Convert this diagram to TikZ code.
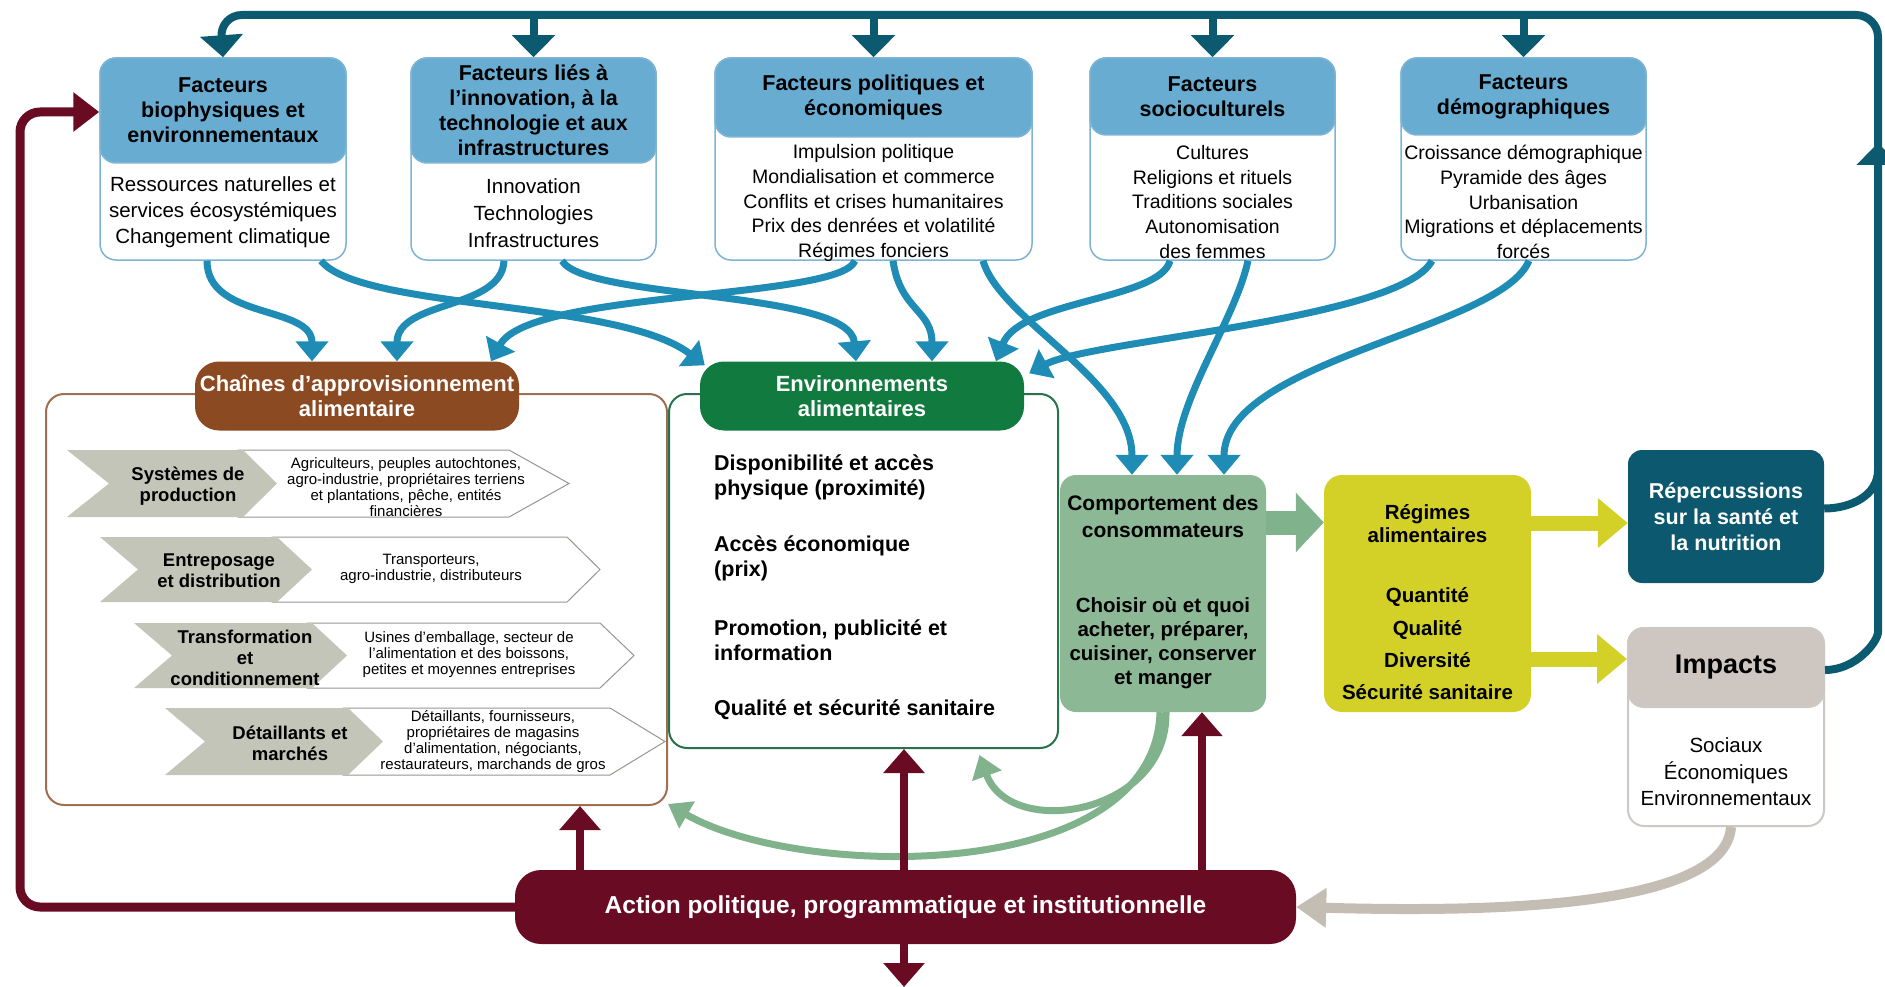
\documentclass[tikz,border=0pt]{standalone}
\usepackage{fontspec}
\setmainfont{Liberation Sans}
\usetikzlibrary{arrows.meta}
\definecolor{toplinec}{RGB}{12,90,112}
\definecolor{hdrblue}{RGB}{104,172,210}
\definecolor{bdrblue}{RGB}{125,180,212}
\definecolor{curveblue}{RGB}{30,140,180}
\definecolor{chbrown}{RGB}{140,74,34}
\definecolor{chborder}{RGB}{160,110,80}
\definecolor{envgreen}{RGB}{17,122,62}
\definecolor{envborder}{RGB}{40,115,75}
\definecolor{compgreen}{RGB}{140,184,150}
\definecolor{loopgreen}{RGB}{128,178,140}
\definecolor{regyellow}{RGB}{211,209,40}
\definecolor{repteal}{RGB}{12,88,110}
\definecolor{impgray}{RGB}{206,199,193}
\definecolor{impborder}{RGB}{205,200,195}
\definecolor{curvegray}{RGB}{196,189,180}
\definecolor{maroonc}{RGB}{105,12,35}
\definecolor{chevgray}{RGB}{196,197,185}
\definecolor{chevline}{RGB}{150,150,145}
\begin{document}
\begin{tikzpicture}[x=1pt,y=-1pt,
 topbox/.style={draw=bdrblue,line width=1.5pt,fill=white,rounded corners=16pt,minimum height=202pt,inner sep=0pt},
 tophdr/.style={draw=bdrblue,line width=1.5pt,fill=hdrblue,rounded corners=16pt,anchor=north,inner sep=0pt,align=center,font=\fontsize{21.5}{25}\selectfont\bfseries},
 topbody/.style={align=center,inner sep=0pt,font=\fontsize{19.5}{24.8}\selectfont},
 pill/.style={rounded corners=24pt,minimum width=324pt,minimum height=69pt,inner sep=0pt,align=center,text=white,font=\fontsize{22}{25}\selectfont\bfseries},
 boldtxt/.style={align=center,inner sep=0pt,font=\fontsize{20.5}{24}\selectfont\bfseries},
 envtxt/.style={align=left,anchor=west,inner sep=0pt,font=\fontsize{21.5}{25}\selectfont\bfseries},
 chevtext/.style={align=center,inner sep=0pt,font=\fontsize{18.5}{21}\selectfont\bfseries},
 chevsub/.style={align=center,inner sep=0pt,font=\fontsize{15}{16}\selectfont},
 toparr/.style={draw=toplinec,line width=8pt,-{Triangle[width=42pt,length=22pt]}},
 bluec/.style={draw=curveblue,line width=7pt,-{Triangle[width=32pt,length=20pt]}},
 greenc/.style={draw=loopgreen,line width=7pt,-{Triangle[width=30pt,length=22pt]}},
 maroonarr/.style={draw=maroonc,line width=8pt,-{Triangle[width=40pt,length=24pt]}},
]
\useasboundingbox (0,0) rectangle (1885,987);

% ---------- top boxes ----------
\node[topbox,minimum width=246pt] (b1) at (223,159) {};
\node[tophdr,minimum width=246pt,minimum height=105pt] (b1h) at (b1.north) {Facteurs\\biophysiques et\\environnementaux};
\node[topbody,font=\fontsize{20.5}{26}\selectfont] (b1t) at (223,212) {Ressources naturelles et\\services écosystémiques\\Changement climatique};

\node[topbox,minimum width=245pt] (b2) at (533.5,159) {};
\node[tophdr,minimum width=245pt,minimum height=105pt] (b2h) at (b2.north) {Facteurs liés à\\l’innovation, à la\\technologie et aux\\infrastructures};
\node[topbody,font=\fontsize{20.5}{27}\selectfont] (b2t) at (533.5,213) {Innovation\\Technologies\\Infrastructures};

\node[topbox,minimum width=317pt] (b3) at (873.5,159) {};
\node[tophdr,minimum width=317pt,minimum height=79pt] (b3h) at (b3.north) {Facteurs politiques et\\économiques};
\node[topbody] (b3t) at (873.5,203) {Impulsion politique\\Mondialisation et commerce\\Conflits et crises humanitaires\\Prix des denrées et volatilité\\Régimes fonciers};

\node[topbox,minimum width=245pt] (b4) at (1212.5,159) {};
\node[tophdr,minimum width=245pt,minimum height=77pt] (b4h) at (b4.north) {Facteurs\\socioculturels};
\node[topbody] (b4t) at (1212.5,202) {Cultures\\Religions et rituels\\Traditions sociales\\Autonomisation\\des femmes};

\node[topbox,minimum width=245pt] (b5) at (1523.5,159) {};
\node[tophdr,minimum width=245pt,minimum height=77pt] (b5h) at (b5.north) {Facteurs\\démographiques};
\node[topbody] (b5t) at (1523.5,202) {Croissance démographique\\Pyramide des âges\\Urbanisation\\Migrations et déplacements\\forcés};

% ---------- middle containers ----------
\node[draw=chborder,line width=2pt,rounded corners=18pt,minimum width=621pt,minimum height=411pt,inner sep=0pt] (ch) at (356.5,599.5) {};
\node[draw=envborder,line width=2pt,rounded corners=18pt,minimum width=389pt,minimum height=354pt,inner sep=0pt] (env) at (863.5,571) {};

% chevrons
\draw[fill=white,draw=chevline,line width=1pt] (238,450) -- (509,450) -- (569,483.5) -- (509,517) -- (238,517) -- cycle;
\fill[chevgray] (67,450) -- (243,450) -- (277,483.5) -- (243,517) -- (67,517) -- (109,483.5) -- cycle;
\draw[fill=white,draw=chevline,line width=1pt] (272,537) -- (567,537) -- (600,569.5) -- (567,602) -- (272,602) -- cycle;
\fill[chevgray] (100,537) -- (277,537) -- (312,569.5) -- (277,602) -- (100,602) -- (138,569.5) -- cycle;
\draw[fill=white,draw=chevline,line width=1pt] (307,623) -- (600,623) -- (634,655.5) -- (600,688) -- (307,688) -- cycle;
\fill[chevgray] (134,623) -- (312,623) -- (347,655.5) -- (312,688) -- (134,688) -- (172,655.5) -- cycle;
\draw[fill=white,draw=chevline,line width=1pt] (343,708) -- (610,708) -- (665,741.5) -- (610,775) -- (343,775) -- cycle;
\fill[chevgray] (165,708) -- (348,708) -- (383,741.5) -- (348,775) -- (165,775) -- (205,741.5) -- cycle;

\node[chevtext] (p1) at (188,486) {Systèmes de\\production};
\node[chevtext] (p2) at (219,571) {Entreposage\\et distribution};
\node[chevtext] (p3) at (245,658) {Transformation\\et\\conditionnement};
\node[chevtext] (p4) at (290,743) {Détaillants et\\marchés};
\node[chevsub] (q1) at (406,487) {Agriculteurs, peuples autochtones,\\agro-industrie, propriétaires terriens\\et plantations, pêche, entités\\financières};
\node[chevsub] (q2) at (431,569) {Transporteurs,\\agro-industrie, distributeurs};
\node[chevsub] (q3) at (469,655) {Usines d’emballage, secteur de\\l’alimentation et des boissons,\\petites et moyennes entreprises};
\node[chevsub] (q4) at (493,741.5) {Détaillants, fournisseurs,\\propriétaires de magasins\\d’alimentation, négociants,\\restaurateurs, marchands de gros};

% env text
\node[envtxt] (e1) at (714,477) {Disponibilité et accès\\physique (proximité)};
\node[envtxt] (e2) at (714,558) {Accès économique\\(prix)};
\node[envtxt] (e3) at (714,640) {Promotion, publicité et\\information};
\node[envtxt] (e4) at (714,710) {Qualité et sécurité sanitaire};

% pills
\node[pill,fill=chbrown] (chp) at (357,396) {Chaînes d’approvisionnement\\alimentaire};
\node[pill,fill=envgreen] (envp) at (862,396) {Environnements\\alimentaires};

% consumer behaviour
\node[fill=compgreen,rounded corners=16pt,minimum width=206pt,minimum height=237pt,inner sep=0pt] (comp) at (1163,593.5) {};
\node[boldtxt,font=\fontsize{21}{27}\selectfont\bfseries] (ct1) at (1163,516) {Comportement des\\consommateurs};
\node[boldtxt] (ct2) at (1163,643) {Choisir où et quoi\\acheter, préparer,\\cuisiner, conserver\\et manger};

% diets
\node[fill=regyellow,rounded corners=18pt,minimum width=207pt,minimum height=237pt,inner sep=0pt] (reg) at (1427.5,593.5) {};
\node[boldtxt,font=\fontsize{20.5}{23}\selectfont\bfseries] (rt1) at (1427.5,524) {Régimes\\alimentaires};
\node[boldtxt,font=\fontsize{20.5}{32.3}\selectfont\bfseries] (rt2) at (1427.5,644) {Quantité\\Qualité\\Diversité\\Sécurité sanitaire};

% health
\node[fill=repteal,rounded corners=14pt,minimum width=196pt,minimum height=133pt,inner sep=0pt,align=center,text=white,font=\fontsize{21.5}{26}\selectfont\bfseries] (rep) at (1726,516.5) {Répercussions\\sur la santé et\\la nutrition};

% impacts
\node[draw=impborder,line width=2pt,fill=white,rounded corners=16pt,minimum width=196pt,minimum height=198pt,inner sep=0pt] (imp) at (1726,727) {};
\node[draw=impborder,line width=2pt,fill=impgray,rounded corners=16pt,minimum width=196pt,minimum height=79pt,inner sep=0pt,anchor=north,font=\fontsize{27}{30}\selectfont\bfseries] (imph) at (imp.north) {Impacts};
\node[align=center,inner sep=0pt,font=\fontsize{20.5}{26.5}\selectfont] (impt) at (1726,772) {Sociaux\\Économiques\\Environnementaux};

% action
\node[fill=maroonc,rounded corners=26pt,minimum width=781pt,minimum height=74pt,inner sep=0pt,text=white,font=\fontsize{24.5}{28}\selectfont\bfseries] (act) at (905.5,907) {Action politique, programmatique et institutionnelle};
\coordinate (outbottom) at (904,987);
\coordinate (upmark) at (1878,143);

% ---------- connectors ----------
% top feedback loop
\draw[draw=toplinec,line width=8pt,rounded corners=22pt,-{Triangle[width=42pt,length=22pt]}] ([yshift=57pt]imp.east) to[out=0,in=-90] (1878,610) -- (1878,15) -- (220,15) -- (b1.north);
\draw[draw=toplinec,line width=8pt] ([yshift=8pt]rep.east) to[out=0,in=-90] (1878,470);
\draw[toparr] (1878,175) -- (upmark);
\draw[toparr] ([yshift=43pt]b2.north) -- (b2.north);
\draw[toparr] ([yshift=43pt]b3.north) -- (b3.north);
\draw[toparr] ([yshift=43pt]b4.north) -- (b4.north);
\draw[toparr] ([yshift=43pt]b5.north) -- (b5.north);

% blue drivers
\draw[bluec] ([xshift=-16pt]b1.south) .. controls (207,320) and (312,305) .. ([xshift=-45pt]chp.north);
\draw[bluec] ([xshift=98pt]b1.south) .. controls (360,310) and (620,300) .. ([xshift=5pt,yshift=-4pt]envp.north west);
\draw[bluec] ([xshift=-29.5pt]b2.south) .. controls (502,310) and (397,300) .. ([xshift=40pt]chp.north);
\draw[bluec] ([xshift=28.5pt]b2.south) .. controls (585,300) and (850,290) .. ([xshift=-6pt]envp.north);
\draw[bluec] ([xshift=-18.5pt]b3.south) .. controls (840,300) and (530,290) .. ([xshift=134pt]chp.north);
\draw[bluec] ([xshift=19.5pt]b3.south) .. controls (900,310) and (932,310) .. ([xshift=70pt]envp.north);
\draw[bluec] ([xshift=109.5pt]b3.south) .. controls (1000,320) and (1132,380) .. ([xshift=-31pt]comp.north);
\draw[bluec] ([xshift=-42.5pt]b4.south) .. controls (1160,300) and (1020,300) .. ([xshift=134pt]envp.north);
\draw[bluec] ([xshift=35.5pt]b4.south) .. controls (1235,320) and (1177,400) .. ([xshift=14pt]comp.north);
\draw[bluec] ([xshift=-91.5pt]b5.south) .. controls (1400,320) and (1090,340) .. ([xshift=5pt,yshift=-12pt]envp.north east);
\draw[bluec] ([xshift=5.5pt]b5.south) .. controls (1500,330) and (1224,360) .. ([xshift=61pt]comp.north);

% block arrows
\draw[draw=loopgreen,line width=24pt,-{Triangle[width=58pt,length=28pt]}] ([yshift=71pt]comp.east) -- ([yshift=71pt]reg.west);
\draw[draw=regyellow,line width=15pt,-{Triangle[width=48pt,length=30pt]}] ([yshift=70.5pt]reg.east) -- ([yshift=-6.5pt]rep.west);
\draw[draw=regyellow,line width=15pt,-{Triangle[width=48pt,length=30pt]}] ([yshift=-65.5pt]reg.east) -- ([yshift=68pt]imp.west);

% green feedback loops
\draw[greenc] ([xshift=3pt]comp.south) .. controls (1168,815) and (1010,840) .. ([xshift=116pt,yshift=-6pt]env.south);
\draw[greenc] ([xshift=-3pt]comp.south) .. controls (1155,885) and (800,880) .. ([yshift=2pt]ch.south east);

% gray impacts -> action
\draw[draw=curvegray,line width=10pt,-{Triangle[width=38pt,length=30pt]}] ([xshift=5pt]imp.south) .. controls (1725,910) and (1480,912) .. (act.east);

% maroon action arrows
\draw[maroonarr] ([xshift=-325.5pt]act.north) -- ([xshift=223.5pt]ch.south);
\draw[maroonarr] ([xshift=-1.5pt]act.north) -- ([xshift=40.5pt]env.south);
\draw[maroonarr] ([xshift=296.5pt]act.north) -- ([xshift=39pt]comp.south);
\draw[maroonarr] ([xshift=-1.5pt]act.south) -- (outbottom);
\draw[draw=maroonc,line width=9pt,rounded corners=20pt,-{Triangle[width=38pt,length=26pt]}] (act.west) -- (20,907) -- (20,112) -- ([yshift=47pt]b1.west);
\end{tikzpicture}
\end{document}
